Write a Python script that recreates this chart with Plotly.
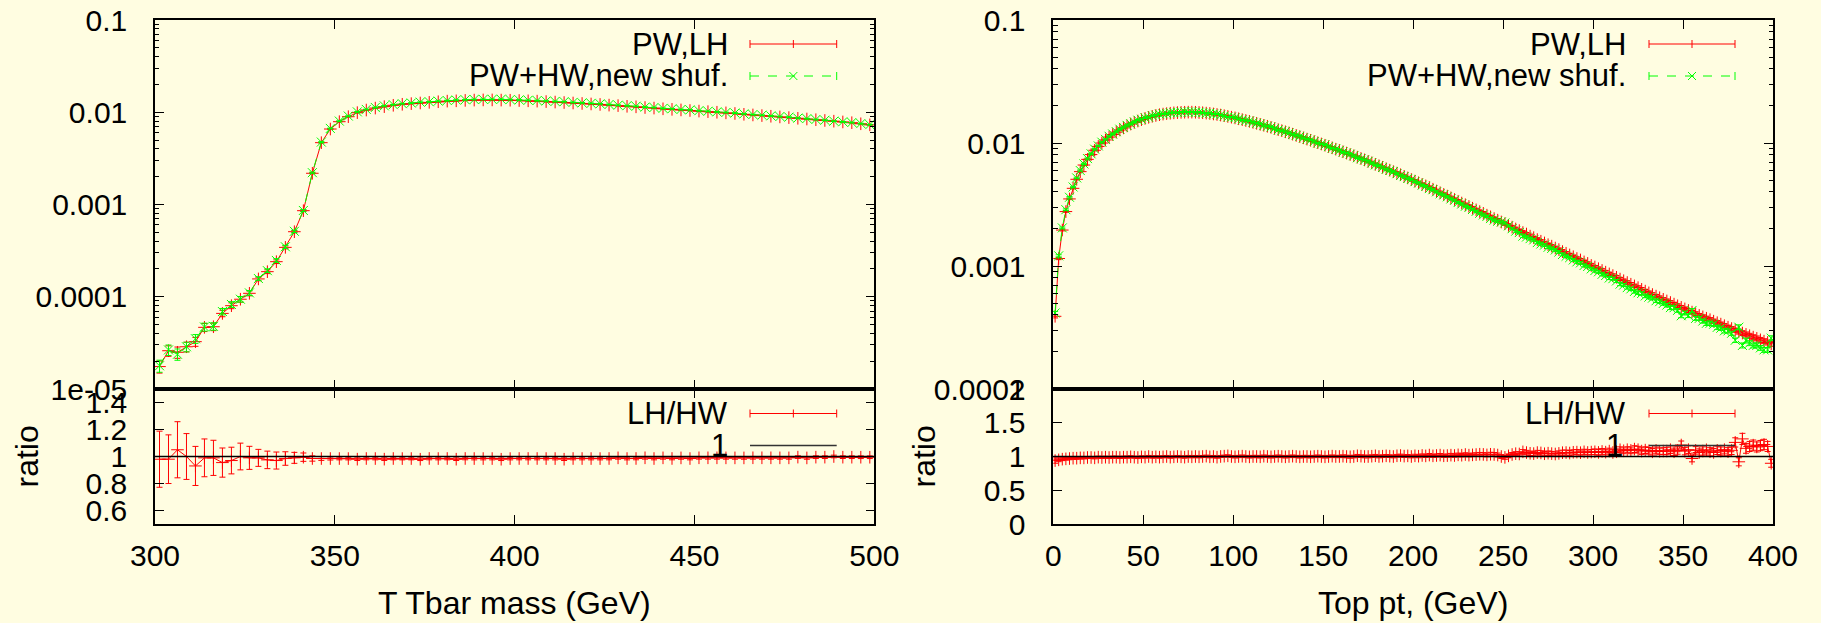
import plotly.graph_objects as go

# ---------------- data ----------------
# T Tbar invariant mass, 2.5 GeV bins
mass = [301.25 + 2.5 * i for i in range(80)]
mass_lh = [
    1.75e-5, 2.6e-5, 2.5e-5, 2.87e-5, 3.26e-5, 4.66e-5, 4.73e-5, 6.6e-5, 8.0e-5, 9.4e-5,
    1.09e-4, 1.56e-4, 1.87e-4, 2.4e-4, 3.43e-4, 5.07e-4, 8.57e-4, 2.18e-3, 4.68e-3, 6.58e-3,
    7.9e-3, 8.95e-3, 9.9e-3, 1.057e-2, 1.11e-2, 1.15e-2, 1.19e-2, 1.22e-2, 1.24e-2, 1.26e-2,
    1.28e-2, 1.30e-2, 1.32e-2, 1.33e-2, 1.345e-2, 1.355e-2, 1.36e-2, 1.36e-2, 1.355e-2, 1.35e-2,
    1.34e-2, 1.33e-2, 1.32e-2, 1.305e-2, 1.29e-2, 1.275e-2, 1.26e-2, 1.245e-2, 1.23e-2, 1.215e-2,
    1.195e-2, 1.18e-2, 1.16e-2, 1.145e-2, 1.125e-2, 1.11e-2, 1.09e-2, 1.075e-2, 1.06e-2, 1.045e-2,
    1.03e-2, 1.015e-2, 1.0e-2, 9.85e-3, 9.7e-3, 9.5e-3, 9.35e-3, 9.2e-3, 9.05e-3, 8.9e-3,
    8.75e-3, 8.6e-3, 8.45e-3, 8.3e-3, 8.15e-3, 8.0e-3, 7.85e-3, 7.7e-3, 7.5e-3, 7.3e-3,
]
mass_hw = [
    1.786e-5, 2.653e-5, 2.381e-5, 2.87e-5, 3.505e-5, 4.707e-5, 4.778e-5, 6.911e-5, 8.247e-5, 9.4e-5,
    1.101e-4, 1.576e-4, 1.918e-4, 2.474e-4, 3.482e-4, 5.121e-4, 8.613e-4, 2.213e-3, 4.751e-3, 6.680e-3,
    8.02e-3, 9.09e-3, 1.010e-2, 1.073e-2, 1.127e-2, 1.173e-2, 1.208e-2, 1.239e-2, 1.259e-2, 1.286e-2,
    1.299e-2, 1.320e-2, 1.340e-2, 1.357e-2, 1.365e-2, 1.376e-2, 1.381e-2, 1.381e-2, 1.383e-2, 1.371e-2,
    1.360e-2, 1.350e-2, 1.340e-2, 1.325e-2, 1.310e-2, 1.301e-2, 1.279e-2, 1.264e-2, 1.249e-2, 1.234e-2,
    1.213e-2, 1.192e-2, 1.178e-2, 1.162e-2, 1.136e-2, 1.127e-2, 1.101e-2, 1.091e-2, 1.071e-2, 1.061e-2,
    1.040e-2, 1.025e-2, 1.010e-2, 9.95e-3, 9.80e-3, 9.60e-3, 9.44e-3, 9.29e-3, 9.14e-3, 8.99e-3,
    8.84e-3, 8.64e-3, 8.54e-3, 8.34e-3, 8.19e-3, 8.00e-3, 7.89e-3, 7.74e-3, 7.54e-3, 7.34e-3,
]
mass_relerr = [
    0.15, 0.13, 0.14, 0.12, 0.11, 0.10, 0.093, 0.08, 0.072, 0.07,
    0.061, 0.045, 0.047, 0.046, 0.036, 0.029, 0.022, 0.014, 0.010, 0.008,
    0.007, 0.007, 0.007, 0.007, 0.007, 0.007, 0.007, 0.007, 0.007, 0.007,
    0.007, 0.007, 0.007, 0.007, 0.007, 0.007, 0.007, 0.007, 0.007, 0.007,
    0.007, 0.007, 0.007, 0.007, 0.007, 0.007, 0.007, 0.007, 0.007, 0.007,
    0.007, 0.007, 0.007, 0.007, 0.007, 0.007, 0.007, 0.007, 0.007, 0.007,
    0.007, 0.007, 0.007, 0.007, 0.007, 0.007, 0.007, 0.007, 0.007, 0.007,
    0.007, 0.007, 0.007, 0.007, 0.007, 0.007, 0.007, 0.007, 0.007, 0.007,
]

# Top transverse momentum, 2 GeV bins
pt = [1 + 2 * i for i in range(200)]
pt_lh = [
    3.9e-4, 1.15e-3, 1.96e-3, 2.77e-3, 3.51e-3, 4.28e-3, 5.07e-3, 5.85e-3, 6.62e-3, 7.36e-3,
    8.05e-3, 8.73e-3, 9.38e-3, 1.000e-2, 1.059e-2, 1.117e-2, 1.172e-2, 1.225e-2, 1.276e-2, 1.327e-2,
    1.377e-2, 1.426e-2, 1.469e-2, 1.510e-2, 1.549e-2, 1.585e-2, 1.618e-2, 1.648e-2, 1.675e-2, 1.698e-2,
    1.718e-2, 1.734e-2, 1.746e-2, 1.758e-2, 1.766e-2, 1.774e-2, 1.778e-2, 1.782e-2, 1.782e-2, 1.778e-2,
    1.770e-2, 1.762e-2, 1.750e-2, 1.738e-2, 1.722e-2, 1.706e-2, 1.687e-2, 1.667e-2, 1.644e-2, 1.622e-2,
    1.600e-2, 1.574e-2, 1.549e-2, 1.524e-2, 1.500e-2, 1.472e-2, 1.445e-2, 1.419e-2, 1.393e-2, 1.368e-2,
    1.340e-2, 1.312e-2, 1.285e-2, 1.259e-2, 1.233e-2, 1.208e-2, 1.180e-2, 1.153e-2, 1.127e-2, 1.102e-2,
    1.076e-2, 1.052e-2, 1.028e-2, 1.005e-2, 9.82e-3, 9.59e-3, 9.35e-3, 9.14e-3, 8.91e-3, 8.71e-3,
    8.49e-3, 8.28e-3, 8.07e-3, 7.87e-3, 7.67e-3, 7.48e-3, 7.29e-3, 7.10e-3, 6.90e-3, 6.71e-3,
    6.53e-3, 6.35e-3, 6.18e-3, 6.01e-3, 5.85e-3, 5.69e-3, 5.52e-3, 5.36e-3, 5.20e-3, 5.05e-3,
    4.90e-3, 4.75e-3, 4.61e-3, 4.48e-3, 4.35e-3, 4.21e-3, 4.07e-3, 3.94e-3, 3.82e-3, 3.70e-3,
    3.58e-3, 3.47e-3, 3.36e-3, 3.25e-3, 3.15e-3, 3.05e-3, 2.95e-3, 2.86e-3, 2.77e-3, 2.68e-3,
    2.59e-3, 2.51e-3, 2.43e-3, 2.36e-3, 2.28e-3, 2.21e-3, 2.14e-3, 2.07e-3, 2.00e-3, 1.94e-3,
    1.87e-3, 1.82e-3, 1.75e-3, 1.70e-3, 1.64e-3, 1.59e-3, 1.54e-3, 1.49e-3, 1.45e-3, 1.40e-3,
    1.36e-3, 1.31e-3, 1.27e-3, 1.23e-3, 1.19e-3, 1.15e-3, 1.12e-3, 1.08e-3, 1.05e-3, 1.01e-3,
    9.82e-4, 9.51e-4, 9.20e-4, 8.91e-4, 8.63e-4, 8.36e-4, 8.09e-4, 7.83e-4, 7.59e-4, 7.34e-4,
    7.11e-4, 6.89e-4, 6.67e-4, 6.46e-4, 6.25e-4, 6.05e-4, 5.86e-4, 5.69e-4, 5.52e-4, 5.36e-4,
    5.20e-4, 5.05e-4, 4.90e-4, 4.75e-4, 4.61e-4, 4.48e-4, 4.35e-4, 4.22e-4, 4.09e-4, 3.97e-4,
    3.86e-4, 3.76e-4, 3.66e-4, 3.56e-4, 3.46e-4, 3.37e-4, 3.27e-4, 3.18e-4, 3.10e-4, 3.01e-4,
    2.93e-4, 2.85e-4, 2.78e-4, 2.71e-4, 2.64e-4, 2.58e-4, 2.51e-4, 2.45e-4, 2.39e-4, 2.33e-4,
]
pt_hw = [
    4.15e-4, 1.21e-3, 2.04e-3, 2.87e-3, 3.62e-3, 4.39e-3, 5.20e-3, 5.97e-3, 6.76e-3, 7.47e-3,
    8.17e-3, 8.91e-3, 9.47e-3, 1.015e-2, 1.070e-2, 1.134e-2, 1.184e-2, 1.237e-2, 1.295e-2, 1.340e-2,
    1.391e-2, 1.433e-2, 1.484e-2, 1.533e-2, 1.557e-2, 1.601e-2, 1.618e-2, 1.665e-2, 1.683e-2, 1.715e-2,
    1.727e-2, 1.734e-2, 1.764e-2, 1.767e-2, 1.766e-2, 1.783e-2, 1.796e-2, 1.782e-2, 1.791e-2, 1.778e-2,
    1.779e-2, 1.762e-2, 1.741e-2, 1.747e-2, 1.722e-2, 1.723e-2, 1.687e-2, 1.659e-2, 1.628e-2, 1.622e-2,
    1.608e-2, 1.574e-2, 1.541e-2, 1.524e-2, 1.508e-2, 1.472e-2, 1.445e-2, 1.426e-2, 1.386e-2, 1.368e-2,
    1.347e-2, 1.312e-2, 1.279e-2, 1.259e-2, 1.239e-2, 1.208e-2, 1.174e-2, 1.153e-2, 1.133e-2, 1.102e-2,
    1.076e-2, 1.057e-2, 1.028e-2, 1.000e-2, 9.82e-3, 9.64e-3, 9.35e-3, 9.09e-3, 8.91e-3, 8.71e-3,
    8.45e-3, 8.28e-3, 8.11e-3, 7.87e-3, 7.59e-3, 7.44e-3, 7.29e-3, 7.10e-3, 6.87e-3, 6.64e-3,
    6.53e-3, 6.32e-3, 6.12e-3, 5.98e-3, 5.85e-3, 5.63e-3, 5.44e-3, 5.33e-3, 5.15e-3, 5.05e-3,
    4.85e-3, 4.73e-3, 4.54e-3, 4.44e-3, 4.26e-3, 4.17e-3, 4.01e-3, 3.86e-3, 3.78e-3, 3.65e-3,
    3.51e-3, 3.42e-3, 3.28e-3, 3.19e-3, 3.06e-3, 2.99e-3, 2.88e-3, 2.78e-3, 2.68e-3, 2.60e-3,
    2.53e-3, 2.43e-3, 2.36e-3, 2.31e-3, 2.28e-3, 2.24e-3, 2.12e-3, 2.01e-3, 1.92e-3, 1.87e-3,
    1.75e-3, 1.72e-3, 1.67e-3, 1.63e-3, 1.55e-3, 1.51e-3, 1.48e-3, 1.42e-3, 1.39e-3, 1.35e-3,
    1.30e-3, 1.24e-3, 1.20e-3, 1.17e-3, 1.12e-3, 1.08e-3, 1.06e-3, 1.01e-3, 9.91e-4, 9.48e-4,
    9.18e-4, 8.97e-4, 8.56e-4, 8.37e-4, 7.99e-4, 7.89e-4, 7.56e-4, 7.12e-4, 7.00e-4, 6.67e-4,
    6.52e-4, 6.21e-4, 6.06e-4, 5.98e-4, 5.71e-4, 5.58e-4, 5.48e-4, 5.22e-4, 5.13e-4, 4.96e-4,
    4.81e-4, 4.59e-4, 4.58e-4, 4.36e-4, 3.94e-4, 4.15e-4, 3.95e-4, 4.35e-4, 3.75e-4, 3.75e-4,
    3.57e-4, 3.42e-4, 3.42e-4, 3.36e-4, 3.17e-4, 3.12e-4, 2.97e-4, 2.97e-4, 2.84e-4, 2.49e-4,
    3.18e-4, 2.26e-4, 2.48e-4, 2.36e-4, 2.26e-4, 2.26e-4, 2.16e-4, 2.08e-4, 2.08e-4, 2.59e-4,
]
pt_relerr = [
    0.030, 0.020, 0.016, 0.014, 0.013, 0.012, 0.012, 0.012, 0.011, 0.011,
    0.011, 0.011, 0.011, 0.011, 0.011, 0.011, 0.011, 0.011, 0.011, 0.011,
    0.011, 0.011, 0.011, 0.011, 0.011, 0.011, 0.011, 0.011, 0.011, 0.011,
    0.011, 0.011, 0.011, 0.011, 0.011, 0.011, 0.011, 0.011, 0.011, 0.011,
    0.011, 0.011, 0.011, 0.011, 0.011, 0.011, 0.011, 0.011, 0.011, 0.011,
    0.012, 0.012, 0.012, 0.012, 0.012, 0.012, 0.012, 0.012, 0.012, 0.012,
    0.012, 0.012, 0.012, 0.012, 0.012, 0.012, 0.012, 0.012, 0.012, 0.012,
    0.012, 0.012, 0.012, 0.012, 0.012, 0.012, 0.012, 0.012, 0.012, 0.012,
    0.014, 0.014, 0.014, 0.014, 0.014, 0.014, 0.014, 0.014, 0.014, 0.014,
    0.014, 0.014, 0.014, 0.014, 0.014, 0.014, 0.014, 0.014, 0.014, 0.014,
    0.016, 0.016, 0.016, 0.016, 0.016, 0.016, 0.016, 0.016, 0.016, 0.016,
    0.018, 0.018, 0.018, 0.018, 0.018, 0.018, 0.018, 0.018, 0.018, 0.018,
    0.020, 0.020, 0.020, 0.020, 0.020, 0.020, 0.020, 0.020, 0.020, 0.020,
    0.022, 0.022, 0.022, 0.022, 0.022, 0.022, 0.022, 0.022, 0.022, 0.022,
    0.025, 0.025, 0.025, 0.025, 0.025, 0.025, 0.025, 0.025, 0.025, 0.025,
    0.028, 0.028, 0.028, 0.028, 0.028, 0.028, 0.028, 0.028, 0.028, 0.028,
    0.032, 0.032, 0.032, 0.032, 0.032, 0.032, 0.032, 0.032, 0.032, 0.032,
    0.036, 0.036, 0.036, 0.036, 0.036, 0.036, 0.036, 0.036, 0.036, 0.036,
    0.040, 0.040, 0.040, 0.040, 0.040, 0.040, 0.040, 0.040, 0.040, 0.040,
    0.046, 0.046, 0.046, 0.046, 0.046, 0.046, 0.046, 0.046, 0.046, 0.046,
]

mass_ticks = [300, 350, 400, 450, 500]
pt_ticks = [0, 50, 100, 150, 200, 250, 300, 350, 400]
mass_ytick_vals = [1e-5, 1e-4, 1e-3, 1e-2, 1e-1]
mass_ytick_text = ["1e-05", "0.0001", "0.001", "0.01", "0.1"]
pt_ytick_vals = [1e-4, 1e-3, 1e-2, 1e-1]
pt_ytick_text = ["0.0001", "0.001", "0.01", "0.1"]
mass_ratio_ticks = [0.6, 0.8, 1.0, 1.2, 1.4]
mass_ratio_text = ["0.6", "0.8", "1", "1.2", "1.4"]
pt_ratio_ticks = [0, 0.5, 1.0, 1.5, 2.0]
pt_ratio_text = ["0", "0.5", "1", "1.5", "2"]


# ---------------- helpers ----------------
W, H = 1821, 623
BG = "#fffde1"
RED = "#ff0000"
GREEN = "#00ff00"
FONT = "Liberation Sans, Arial, sans-serif"


def px(x):
    return x / W


def py(y):
    return 1 - y / H


def ratio_of(a, b, rel):
    r = [u / v for u, v in zip(a, b)]
    e = [ri * (2 * s * s) ** 0.5 for ri, s in zip(r, rel)]
    return r, e


mass_ratio, mass_ratio_err = ratio_of(mass_lh, mass_hw, mass_relerr)
pt_ratio, pt_ratio_err = ratio_of(pt_lh, pt_hw, pt_relerr)


def minor_log(lo, hi):
    return [m * 10.0 ** e for e in range(lo, hi) for m in range(2, 10)]


fig = go.Figure()


def add_series(x, y, err, xa, ya, color, symbol, dash):
    fig.add_trace(go.Scatter(
        x=x, y=y, xaxis=xa, yaxis=ya, mode="lines+markers",
        line=dict(color=color, width=1, dash=dash),
        marker=dict(symbol=symbol, size=9, color=color,
                    line=dict(color=color, width=1)),
        error_y=dict(type="data", array=err, color=color, thickness=1, width=3),
        showlegend=False, cliponaxis=True,
    ))


# left: mass
add_series(mass, mass_lh, [v * s for v, s in zip(mass_lh, mass_relerr)],
           "x", "y", RED, "cross-thin-open", "solid")
add_series(mass, mass_hw, [v * s for v, s in zip(mass_hw, mass_relerr)],
           "x", "y", GREEN, "x-thin-open", "dash")
add_series(mass, mass_ratio, mass_ratio_err, "x2", "y2", RED, "cross-thin-open", "solid")

# right: pt
add_series(pt, pt_lh, [v * s for v, s in zip(pt_lh, pt_relerr)],
           "x3", "y3", RED, "cross-thin-open", "solid")
add_series(pt, pt_hw, [v * s for v, s in zip(pt_hw, pt_relerr)],
           "x3", "y3", GREEN, "x-thin-open", "dash")
add_series(pt, pt_ratio, pt_ratio_err, "x4", "y4", RED, "cross-thin-open", "solid")

# panel geometry (pixels)
LX0, LX1 = 155, 874.3
RX0, RX1 = 1053.3, 1773
TOP, MID, BOT = 20, 389, 524

tickfont = dict(family=FONT, size=30, color="black")
common = dict(showline=True, linecolor="black", linewidth=1.5, mirror="allticks",
              ticks="inside", tickcolor="black", tickwidth=1.2, showgrid=False,
              zeroline=False, tickfont=tickfont, automargin=False)


def xaxis_cfg(domain, anchor, rng, ticks, labels):
    d = dict(common)
    d.update(domain=[px(domain[0]), px(domain[1])], anchor=anchor, range=rng,
             tickmode="array", tickvals=ticks, ticklen=9,
             showticklabels=labels, ticklabelstandoff=4)
    return d


def ylog_cfg(domain, anchor, rng, vals, text, minor_lo, minor_hi):
    d = dict(common)
    d.update(domain=[py(domain[1]), py(domain[0])], anchor=anchor, type="log",
             range=rng, tickmode="array", tickvals=vals, ticktext=text, ticklen=9,
             ticklabelstandoff=20,
             minor=dict(ticks="inside", ticklen=4.5, tickcolor="black", tickwidth=1.2,
                        tickmode="array", tickvals=minor_log(minor_lo, minor_hi),
                        showgrid=False))
    return d


def ylin_cfg(domain, anchor, rng, vals, text):
    d = dict(common)
    d.update(domain=[py(domain[1]), py(domain[0])], anchor=anchor, range=rng,
             tickmode="array", tickvals=vals, ticktext=text, ticklen=9,
             ticklabelstandoff=20)
    return d


fig.update_layout(
    width=W, height=H, autosize=False,
    margin=dict(l=0, r=0, t=0, b=0, pad=0, autoexpand=False),
    paper_bgcolor=BG, plot_bgcolor=BG,
    font=dict(family=FONT, size=30, color="black"),
    xaxis=xaxis_cfg((LX0, LX1), "y", [300, 500], mass_ticks, False),
    yaxis=ylog_cfg((TOP, MID), "x", [-5, -1], mass_ytick_vals, mass_ytick_text, -5, -1),
    xaxis2=xaxis_cfg((LX0, LX1), "y2", [300, 500], mass_ticks, True),
    yaxis2=ylin_cfg((MID, BOT), "x2", [0.5, 1.5], mass_ratio_ticks, mass_ratio_text),
    xaxis3=xaxis_cfg((RX0, RX1), "y3", [0, 400], pt_ticks, False),
    yaxis3=ylog_cfg((TOP, MID), "x3", [-4, -1], pt_ytick_vals, pt_ytick_text, -4, -1),
    xaxis4=xaxis_cfg((RX0, RX1), "y4", [0, 400], pt_ticks, True),
    yaxis4=ylin_cfg((MID, BOT), "x4", [0, 2], pt_ratio_ticks, pt_ratio_text),
)

shapes = []
annotations = []

# reference line at ratio = 1
for xr, yr in (("x2", "y2"), ("x4", "y4")):
    shapes.append(dict(type="line", xref=f"{xr} domain", yref=yr, x0=0, x1=1, y0=1, y1=1,
                       line=dict(color="black", width=1.5), layer="above"))


def text(x, y, s, anchor="right", angle=0, size=31):
    annotations.append(dict(x=px(x), y=py(y), xref="paper", yref="paper", text=s,
                            showarrow=False, xanchor=anchor, yanchor="middle",
                            textangle=angle, font=dict(family=FONT, size=size, color="black")))


def seg(x0, y0, x1, y1, color, width=1, dash="solid"):
    shapes.append(dict(type="line", xref="paper", yref="paper",
                       x0=px(x0), y0=py(y0), x1=px(x1), y1=py(y1),
                       line=dict(color=color, width=width, dash=dash)))


def key_errorbar(x0, x1, y, color, dash, mark):
    seg(x0, y, x1, y, color, 1, dash)
    seg(x0, y - 4, x0, y + 4, color)
    seg(x1, y - 4, x1, y + 4, color)
    xc = (x0 + x1) / 2
    if mark == "+":
        seg(xc, y - 4, xc, y + 4, color)
    else:
        seg(xc - 4, y - 4, xc + 4, y + 4, color)
        seg(xc - 4, y + 4, xc + 4, y - 4, color)


# keys for both panels
for tx, kx0, kx1, one_x in ((730, 750, 836.7, 730), (1628, 1649, 1735, 1625)):
    text(tx, 44, "PW,LH")
    key_errorbar(kx0, kx1, 44, RED, "solid", "+")
    text(tx, 76, "PW+HW,new shuf.")
    key_errorbar(kx0, kx1, 76, GREEN, "dash", "x")
    text(tx, 413.5, "LH/HW")
    key_errorbar(kx0, kx1, 413.5, RED, "solid", "+")
    text(one_x, 445.5, "1")
    seg(kx0, 445.5, kx1, 445.5, "#333333", 1.5)

# axis titles
text(514.6, 603, "T Tbar mass (GeV)", anchor="center", size=32)
text(1412.5, 603, "Top pt, (GeV)", anchor="center", size=32)
text(26, 456.5, "ratio", anchor="center", angle=-90, size=32)
text(923, 456.5, "ratio", anchor="center", angle=-90, size=32)

fig.update_layout(shapes=shapes, annotations=annotations)
fig.write_html("out.html")
